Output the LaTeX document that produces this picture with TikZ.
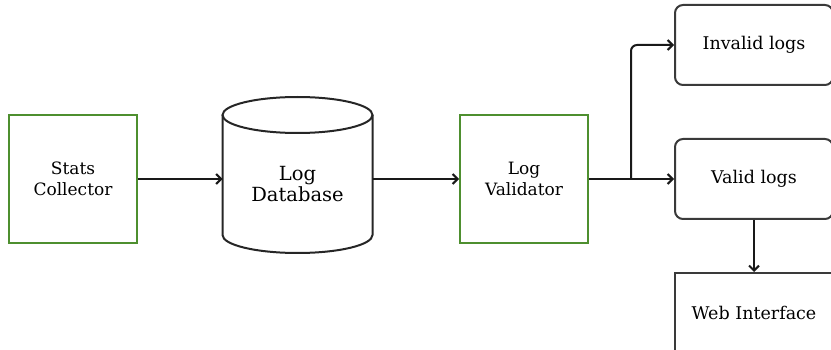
\documentclass[tikz,border=0pt]{standalone}
\usepackage{fontspec}
\setmainfont{DejaVu Serif}
\usepackage{tikz}
\usetikzlibrary{arrows.meta,positioning,calc}
\definecolor{stagegreen}{HTML}{4E8F2F}
\definecolor{edgegray}{HTML}{3A3A3A}
\tikzset{
  stage/.style={draw=stagegreen,line width=2pt,minimum width=128pt,minimum height=128pt,
    inner sep=0pt,align=center,font=\fontsize{17}{21}\selectfont},
  result/.style={draw=edgegray,line width=2pt,rounded corners=8pt,minimum width=158pt,
    minimum height=80pt,inner sep=0pt,font=\fontsize{17.5}{21}\selectfont},
  flow/.style={-{Straight Barb[length=5pt,width=10pt,line width=2pt]},line width=2pt,color=black!90}
}
\begin{document}
\begin{tikzpicture}
  \useasboundingbox (0,0) rectangle (831pt,-350pt);
  % stages
  \node[stage] (stats) at (73pt,-179pt) {Stats\\Collector};
  \node[stage, right=321pt of stats] (val) {Log\\Validator};
  % database cylinder
  \node[align=center,font=\fontsize{19.5}{21.5}\selectfont] (db) at (297.5pt,-184pt) {Log\\Database};
  \coordinate (dbtop) at ($(db.center)+(0,69pt)$);
  \coordinate (dbbot) at ($(db.center)+(0,-51pt)$);
  \coordinate (dbW) at ($(db.center)+(-75pt,0)$);
  \draw[draw=black!85,line width=2pt]
    ($(dbtop)+(-75pt,0)$) -- ($(dbbot)+(-75pt,0)$)
    arc[start angle=180,end angle=360,x radius=75pt,y radius=18pt]
    -- ($(dbtop)+(75pt,0)$);
  \draw[draw=black!85,line width=2pt] (dbtop) ellipse[x radius=75pt,y radius=18pt];
  \coordinate (dbE) at ($(db.center)+(75pt,0)$);
  % results
  \node[result, right=85pt of val] (valid) {Valid logs};
  \node[result, above=52pt of valid] (invalid) {Invalid logs};
  \node[result, rounded corners=0pt, below=52pt of valid] (web) {Web Interface};
  % connectors
  \draw[flow] (stats.east) -- (stats.east -| dbW);
  \draw[flow] (stats.east -| dbE) -- (val.west);
  \draw[flow] (val.east) -- (valid.west);
  \coordinate (split) at ([xshift=42pt]val.east);
  \draw[flow, rounded corners=6pt] (split) |- (invalid.west);
  \draw[flow] (valid.south) -- (web.north);
\end{tikzpicture}
\end{document}
